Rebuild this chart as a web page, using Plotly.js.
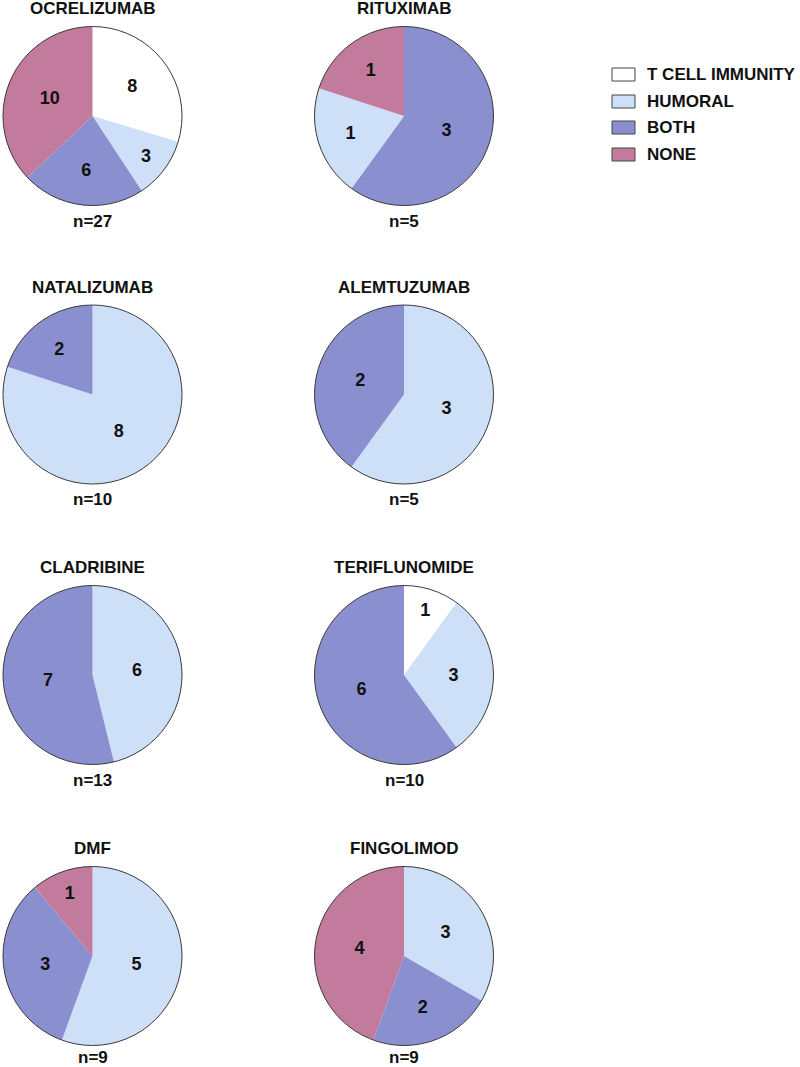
<!DOCTYPE html>
<html>
<head>
<meta charset="utf-8">
<script src="https://cdn.plot.ly/plotly-3.0.1.min.js"></script>
<style>html,body{margin:0;padding:0;background:#fff;}#chart{width:800px;height:1067px;}</style>
</head>
<body>
<div id="chart"></div>
<script>
// ---- data ----
const drugs = ['OCRELIZUMAB','RITUXIMAB','NATALIZUMAB','ALEMTUZUMAB','CLADRIBINE','TERIFLUNOMIDE','DMF','FINGOLIMOD'];
const categories = ['T CELL IMMUNITY','HUMORAL','BOTH','NONE'];
const categoryColors = ['#ffffff','#cde0f8','#8a8fd0','#c27b9d'];

const ocrelizumabLabels = ['T CELL IMMUNITY','HUMORAL','BOTH','NONE'];
const ocrelizumabValues = [8,3,6,10];
const rituximabLabels = ['BOTH','HUMORAL','NONE'];
const rituximabValues = [3,1,1];
const natalizumabLabels = ['HUMORAL','BOTH'];
const natalizumabValues = [8,2];
const alemtuzumabLabels = ['HUMORAL','BOTH'];
const alemtuzumabValues = [3,2];
const cladribineLabels = ['HUMORAL','BOTH'];
const cladribineValues = [6,7];
const teriflunomideLabels = ['T CELL IMMUNITY','HUMORAL','BOTH'];
const teriflunomideValues = [1,3,6];
const dmfLabels = ['HUMORAL','BOTH','NONE'];
const dmfValues = [5,3,1];
const fingolimodLabels = ['HUMORAL','BOTH','NONE'];
const fingolimodValues = [3,2,4];

const pieLabels = [ocrelizumabLabels, rituximabLabels, natalizumabLabels, alemtuzumabLabels,
                   cladribineLabels, teriflunomideLabels, dmfLabels, fingolimodLabels];
const pieValues = [ocrelizumabValues, rituximabValues, natalizumabValues, alemtuzumabValues,
                   cladribineValues, teriflunomideValues, dmfValues, fingolimodValues];

// ---- layout geometry (pixels) ----
const W = 800, H = 1067;
const colX = [92.5, 404];
const rowY = [116, 394.5, 675, 956];
const R = 89.5;
const FONT = 'Liberation Sans, Arial, Helvetica, sans-serif';
const px2x = v => v / W;
const px2y = v => 1 - v / H;
const colorOf = lab => categoryColors[categories.indexOf(lab)];

const traces = [];
const shapes = [];
const annotations = [];

drugs.forEach((name, i) => {
  const row = Math.floor(i / 2);
  const cx = colX[i % 2], cy = rowY[row];
  const vals = pieValues[i];
  const labs = pieLabels[i];
  traces.push({
    type: 'pie',
    labels: labs,
    values: vals,
    sort: false,
    direction: 'clockwise',
    rotation: 0,
    textinfo: 'value',
    textposition: 'inside',
    insidetextorientation: 'horizontal',
    textfont: {family: FONT, size: 18, color: '#111', weight: 'bold'},
    marker: {colors: labs.map(colorOf), line: {width: 0}},
    domain: {x: [px2x(cx - R), px2x(cx + R)], y: [px2y(cy + R), px2y(cy - R)]},
    showlegend: false,
    hoverinfo: 'label+value'
  });
  shapes.push({
    type: 'circle', xref: 'paper', yref: 'paper', layer: 'above',
    x0: px2x(cx - R), x1: px2x(cx + R), y0: px2y(cy + R), y1: px2y(cy - R),
    line: {color: '#3a3a3a', width: 1}
  });
  const total = vals.reduce((a, b) => a + b, 0);
  annotations.push({
    xref: 'paper', yref: 'paper', x: px2x(cx), y: px2y(cy - R - 18),
    xanchor: 'center', yanchor: 'middle', showarrow: false,
    text: '<b>' + name + '</b>',
    font: {family: FONT, size: 17, color: '#111'}
  });
  const nOffset = row === 3 ? 12 : 16;
  annotations.push({
    xref: 'paper', yref: 'paper', x: px2x(cx), y: px2y(cy + R + nOffset),
    xanchor: 'center', yanchor: 'middle', showarrow: false,
    text: '<b>n=' + total + '</b>',
    font: {family: FONT, size: 17, color: '#111'}
  });
});

// ---- legend (custom, from categories) ----
const legX0 = 612, legX1 = 635, legTextX = 645;
const legY = [74.5, 101.5, 127.5, 154.5];
categories.forEach((c, k) => {
  shapes.push({
    type: 'rect', xref: 'paper', yref: 'paper',
    x0: px2x(legX0), x1: px2x(legX1), y0: px2y(legY[k] + 6.5), y1: px2y(legY[k] - 6.5),
    fillcolor: categoryColors[k], line: {color: '#444', width: 1}
  });
  annotations.push({
    xref: 'paper', yref: 'paper', x: px2x(legTextX), y: px2y(legY[k]),
    xanchor: 'left', yanchor: 'middle', showarrow: false,
    text: '<b>' + c + '</b>',
    font: {family: FONT, size: 17, color: '#111'}
  });
});

const layout = {
  width: W, height: H,
  margin: {l: 0, r: 0, t: 0, b: 0},
  paper_bgcolor: '#ffffff',
  showlegend: false,
  shapes: shapes,
  annotations: annotations,
  font: {family: FONT}
};

Plotly.newPlot('chart', traces, layout, {displayModeBar: false, staticPlot: true});
</script>
</body>
</html>
